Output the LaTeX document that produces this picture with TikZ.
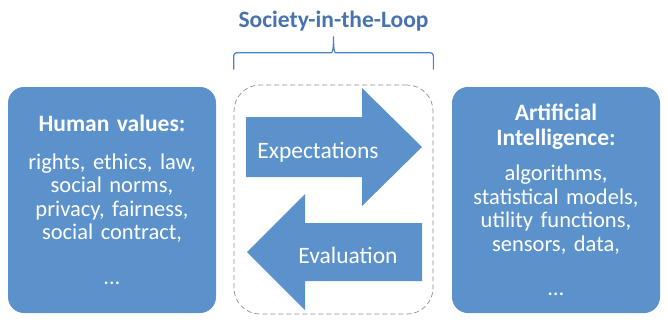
\documentclass[tikz,border=0pt]{standalone}
\usepackage{fontspec}
\setmainfont{Carlito}
\usetikzlibrary{positioning, calc}
\definecolor{LoopBlue}{RGB}{92, 146, 203}
\definecolor{LoopTitle}{RGB}{72, 114, 176}
\definecolor{LoopBrace}{RGB}{79, 129, 189}
\definecolor{LoopGrey}{RGB}{140, 142, 150}
\newcommand{\headfont}{\fontsize{23.5}{23.5}\selectfont\bfseries}

\begin{document}
\begin{tikzpicture}[
        x = 1pt, y = -1pt,
        box/.style = {rounded corners = 16pt, fill = LoopBlue, text = white, align = center, font = \fontsize{22.5}{23.5}\selectfont, minimum width = 208pt, minimum height = 226pt, text width = 206pt, inner sep = 0pt},
        loopbox/.style = {draw = LoopGrey, dash pattern = on 5pt off 3pt, line width = 0.7pt, rounded corners = 26pt, minimum width = 199pt, minimum height = 229pt},
        bracestyle/.style = {draw = LoopBrace, line width = 1.2pt, rounded corners = 3pt},
        title/.style = {text = LoopTitle, font = \headfont, inner sep = 3pt},
        lab/.style = {text = white, font = \fontsize{23.5}{23.5}\selectfont, anchor = base}
    ]
        \useasboundingbox (0, 0) rectangle (668, 322);

        \node[box] (human) at (112, 200) {
            {\headfont Human values:}
            \\[14pt]
            rights, ethics, law,
            \\
            social norms,
            \\
            privacy, fairness,
            \\
            social contract,
            \\[21pt]
            \dots
        };

        \node[box] (ai) at (556, 200) {
            {\headfont Artificial}
            \\[1pt]
            {\headfont Intelligence:}
            \\[12pt]
            algorithms,
            \\
            statistical models,
            \\
            utility functions,
            \\
            sensors, data,
            \\[21pt]
            \dots
        };

        \node[loopbox] (society) at (333.5, 199.5) {};

        % brace over the loop
        \coordinate (lb) at ($(society.north west) + (0, -15)$);
        \coordinate (rb) at ($(society.north east) + (0, -15)$);
        \coordinate (tip) at ($(society.north) + (0, -50)$);
        \draw[bracestyle] (lb) -- ($(lb) + (0, -17)$) -- ($(tip) + (-5, 18)$)
            .. controls ($(tip) + (-1, 18)$) and ($(tip) + (0, 14)$) .. (tip)
            .. controls ($(tip) + (0, 14)$) and ($(tip) + (1, 18)$) .. ($(tip) + (5, 18)$)
            -- ($(rb) + (0, -17)$) -- (rb);

        \node[title, above = 0pt of tip] (slogan) {Society-in-the-Loop};

        % the two block arrows
        \fill[LoopBlue] (246, 117) -- (362, 117) -- (362, 88) -- (422, 147) -- (362, 206) -- (362, 177) -- (246, 177) -- cycle;
        \fill[LoopBlue] (422, 223) -- (305, 223) -- (305, 194) -- (247, 252) -- (305, 310) -- (305, 281) -- (422, 281) -- cycle;

        \node[lab] (expect) at (318, 158) {Expectations};
        \node[lab] (eval) at (348, 263) {Evaluation};
    \end{tikzpicture}
\end{document}
